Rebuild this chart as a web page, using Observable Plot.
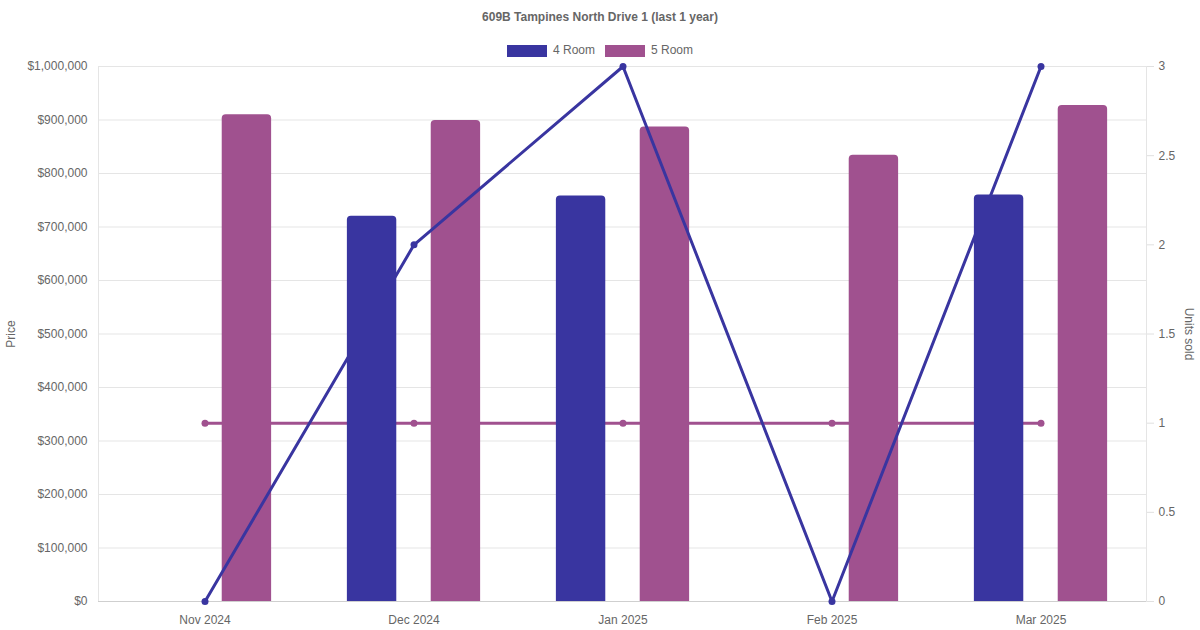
<!DOCTYPE html>
<html>
<head>
<meta charset="utf-8">
<script src="https://cdn.jsdelivr.net/npm/d3@7"></script>
<script src="https://cdn.jsdelivr.net/npm/@observablehq/plot@0.6"></script>
<style>
  body { margin: 0; background: #fff; font-family: "Liberation Sans", Arial, sans-serif; }
  #wrap { width: 1200px; }
  #title { height: 34px; line-height: 34px; text-align: center; font-weight: bold; font-size: 12px; color: #666; }
  #legend { height: 26px; display: flex; justify-content: center; align-items: flex-start; gap: 10px; font-size: 12px; color: #666; }
  .item { display: flex; align-items: center; gap: 6px; margin-top: 10px; height: 13px; line-height: 13px; }
  .box { width: 40px; height: 12px; }
</style>
</head>
<body>
<div id="wrap">
  <div id="title"></div>
  <div id="legend"></div>
  <div id="chart"></div>
</div>
<script>
const titleText = "609B Tampines North Drive 1 (last 1 year)";
const months = ["Nov 2024", "Dec 2024", "Jan 2025", "Feb 2025", "Mar 2025"];
const seriesNames = ["4 Room", "5 Room"];
const seriesColors = ["#3935a0", "#a0518f"];
const price4 = [null, 720000, 758000, null, 760000];
const price5 = [910000, 899000, 887000, 834000, 927000];
const units4 = [0, 2, 3, 0, 3];
const units5 = [1, 1, 1, 1, 1];
const priceTicks = [0, 100000, 200000, 300000, 400000, 500000, 600000, 700000, 800000, 900000, 1000000];
const unitTicks = [0, 0.5, 1, 1.5, 2, 2.5, 3];

document.getElementById("title").textContent = titleText;
const legend = document.getElementById("legend");
seriesNames.forEach((n, i) => {
  const it = document.createElement("div");
  it.className = "item";
  const b = document.createElement("div");
  b.className = "box";
  b.style.background = seriesColors[i];
  const t = document.createElement("span");
  t.textContent = n;
  it.appendChild(b); it.appendChild(t);
  legend.appendChild(it);
});

const W = 1200, H = 570;
const mL = 98, mR = 54, mT = 6, mB = 29;
const yMax = priceTicks[priceTicks.length - 1];
const uMax = unitTicks[unitTicks.length - 1];
const toPrice = u => u / uMax * yMax;
const rows = months.map((m, i) => ({month: m, p4: price4[i], p5: price5[i], u4: toPrice(units4[i]), u5: toPrice(units5[i])}));

// Chart.js-like grouping: category 80%, two slots, bar thickness 50
const bw = (W - mL - mR) / months.length;
const slot = bw * 0.8 / 2;
const barW = 50;
const inset = k => {
  const left = bw * 0.1 + slot * (k + 0.5) - barW / 2;
  return {insetLeft: left, insetRight: bw - left - barW};
};
const fmtPrice = d3.format("$,");
const fmtUnits = d => String(+(d / yMax * uMax).toFixed(2));

const chart = Plot.plot({
  width: W, height: H,
  marginLeft: mL, marginRight: mR, marginTop: mT, marginBottom: mB,
  style: {fontFamily: '"Liberation Sans", Arial, sans-serif', fontSize: "12px", color: "#666", background: "#fff"},
  x: {type: "band", domain: months, padding: 0, label: null},
  y: {domain: [0, yMax], label: null},
  marks: [
    Plot.gridY(priceTicks, {stroke: "#e5e5e5", strokeOpacity: 1}),
    Plot.frame({stroke: "#e5e5e5"}),
    Plot.axisY(priceTicks, {anchor: "left", tickSize: 0, tickPadding: 11, tickFormat: fmtPrice, fill: "#666", fontSize: 12, label: null}),
    Plot.axisY(unitTicks.map(toPrice), {anchor: "right", tickSize: 7, tickPadding: 5, stroke: "#e0e0e0", strokeOpacity: 1, tickFormat: fmtUnits, fill: "#666", fontSize: 12, label: null}),
    Plot.axisX({tickSize: 0, tickPadding: 14, fill: "#666", fontSize: 12, label: null}),
    Plot.ruleY([0], {stroke: "#cfcfcf"}),
    Plot.text(["Price"], {text: d => d, frameAnchor: "left", dx: -87, rotate: -90, textAnchor: "middle", fill: "#666", fontSize: 12}),
    Plot.text(["Units sold"], {text: d => d, frameAnchor: "right", dx: 42, rotate: 90, textAnchor: "middle", fill: "#666", fontSize: 12}),
    // 5 Room units line (bottom-most)
    Plot.line(rows, {x: "month", y: "u5", stroke: seriesColors[1], strokeWidth: 3}),
    Plot.dot(rows, {x: "month", y: "u5", fill: seriesColors[1], r: 3.5}),
    // 5 Room bars
    Plot.barY(rows.filter(d => d.p5 != null), {x: "month", y: "p5", fill: seriesColors[1], ...inset(1), ry1: 4}),
    // 4 Room units line
    Plot.line(rows, {x: "month", y: "u4", stroke: seriesColors[0], strokeWidth: 3}),
    Plot.dot(rows, {x: "month", y: "u4", fill: seriesColors[0], r: 3.5}),
    // 4 Room bars (top-most)
    Plot.barY(rows.filter(d => d.p4 != null), {x: "month", y: "p4", fill: seriesColors[0], ...inset(0), ry1: 4})
  ]
});
document.getElementById("chart").appendChild(chart);
</script>
</body>
</html>
